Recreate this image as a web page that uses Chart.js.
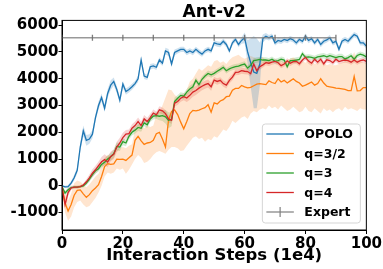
<!DOCTYPE html>
<html>
<head>
<meta charset="utf-8">
<script src="https://cdn.jsdelivr.net/npm/chart.js@4.4.0/dist/chart.umd.min.js"></script>
<style>
  body { margin: 0; background: #fff; }
  #wrap { width: 383px; height: 269px; }
</style>
</head>
<body>
<div id="wrap"><canvas id="antChart"></canvas></div>
<script>
// mean returns per step (x = index, in 1e4 interaction steps)
const opolo = [0, -40, -30, 100, 300, 580, 1450, 2050, 1700, 1750,
  1930, 2550, 3000, 3300, 2900, 3450, 3760, 3900, 3600, 3200,
  3800, 3520, 3600, 3700, 3820, 4000, 4700, 4100, 4050, 4450,
  4480, 4430, 4700, 4580, 5040, 4980, 4550, 4980, 5040, 5100,
  5100, 4980, 5040, 4980, 5100, 5000, 4920, 5040, 5100, 5040,
  5340, 5300, 5280, 5400, 5280, 5040, 5340, 5470, 5280, 5430,
  5530, 5000, 4600, 4250, 4200, 4550, 5500, 5590, 5530, 5590,
  5340, 5430, 5400, 5470, 5430, 5500, 5450, 5340, 5470, 5400,
  5590, 5430, 5500, 5340, 5470, 5280, 5400, 5450, 5530, 5340,
  5400, 5100, 5400, 5470, 5400, 5530, 5650, 5590, 5340, 5340,
  5220];
const opoloSpread = [30, 40, 60, 80, 100, 120, 150, 200, 200, 180,
  150, 130, 150, 150, 140, 160, 180, 150, 130, 120,
  130, 120, 110, 110, 100, 120, 130, 110, 100, 100,
  100, 100, 100, 100, 120, 130, 120, 110, 100, 100,
  100, 100, 100, 100, 100, 100, 100, 100, 100, 100,
  100, 100, 100, 100, 100, 100, 100, 100, 100, 120,
  200, 450, 900, 1350, 1300, 800, 150, 120, 100, 100,
  100, 100, 100, 100, 100, 100, 100, 100, 100, 100,
  100, 100, 100, 100, 100, 100, 100, 100, 100, 100,
  100, 100, 100, 100, 100, 100, 100, 100, 100, 100,
  100];

const q32 = [-85, -630, -940, -700, -350, -170, -150, -300, -430, -330,
  -180, -80, 40, 350, 720, 830, 800, 820, 1000, 990,
  1000, 950, 1050, 1150, 1700, 1850, 1680, 1550, 1600, 1620,
  1700, 1950, 2000, 1750, 1450, 2450, 2780, 2840, 2660, 2380,
  2130, 2400, 2700, 2820, 2800, 2830, 2880, 2920, 3030, 2750,
  3100, 3060, 3170, 3220, 3330, 3350, 3570, 3640, 3640, 3750,
  3700, 3660, 3680, 3740, 3800, 3820, 3800, 3780, 3920, 3860,
  3820, 4000, 3880, 3940, 3840, 3920, 4000, 3900, 3840, 3720,
  3760, 3820, 3880, 3760, 3820, 4000, 3840, 3720, 3700, 3680,
  3650, 3640, 3620, 3600, 3560, 3560, 4090, 3550, 3560, 3670,
  3670];
const q32Low = [-300, -1000, -1300, -1150, -800, -600, -550, -700, -800, -750,
  -600, -450, -250, 0, 350, 500, 450, 500, 650, 600,
  650, 450, 600, 800, 1000, 1150, 1050, 850, 900, 1000,
  1150, 1250, 1300, 1250, 1200, 1350, 1450, 1450, 1400, 1300,
  1330, 1500, 1650, 1800, 1850, 1750, 1800, 1650, 1750, 1700,
  1850, 1800, 1950, 2100, 2050, 2200, 2430, 2350, 2450, 2550,
  2600, 2500, 2700, 2800, 2750, 2850, 2900, 2850, 3000, 2900,
  2950, 2850, 3000, 2900, 2800, 2850, 2950, 2850, 2750, 2800,
  2950, 2800, 2750, 2900, 2800, 2700, 2900, 2800, 2850, 2750,
  2850, 2900, 2800, 2950, 2850, 2900, 2850, 2800, 2900, 2850,
  2850];
const q32High = [100, -300, -550, -300, 100, 200, 150, 50, -50, 50,
  200, 350, 450, 700, 1050, 1150, 1100, 1150, 1350, 1400,
  1450, 1400, 1500, 1550, 2100, 2300, 2200, 2150, 2250, 2200,
  2250, 2650, 2750, 3000, 3300, 3600, 3570, 3400, 3300, 3200,
  3300, 3600, 3900, 4000, 4200, 4380, 4300, 4400, 4500, 4450,
  4650, 4700, 4600, 4650, 4550, 4700, 4800, 4850, 4900, 4800,
  4750, 4800, 4850, 4800, 4750, 4800, 4800, 4700, 4750, 4600,
  4550, 4650, 4700, 4600, 4700, 4750, 4800, 4700, 4600, 4650,
  4600, 4700, 4650, 4550, 4600, 4650, 4600, 4500, 4550, 4500,
  4500, 4550, 4600, 4650, 4700, 4750, 5000, 4700, 4650, 4600,
  4600];

const q3 = [-25, -270, -150, -70, -50, -50, -30, 0, 100, 250,
  420, 560, 640, 800, 880, 1000, 1090, 1200, 1470, 1450,
  1650, 1600, 1850, 2000, 2080, 2180, 2150, 2350, 2280, 2500,
  2600, 2620, 2600, 2620, 2580, 2450, 2480, 3150, 3270, 3380,
  3350, 3500, 3620, 3700, 3940, 3780, 3980, 4100, 4200, 4150,
  4200, 4280, 4350, 4430, 4300, 4370, 4420, 4450, 4470, 4520,
  4550, 4400, 4500, 4680, 4700, 4720, 4700, 4700, 4680, 4730,
  4650, 4680, 4730, 4700, 4450, 4680, 4680, 4700, 4720, 4940,
  4800, 4820, 4800, 4760, 4820, 4840, 4860, 4820, 4860, 4830,
  4790, 4830, 4830, 4740, 4790, 4860, 4730, 4870, 4920, 4880,
  4820];
const q3Spread = [20, 80, 80, 60, 50, 50, 50, 60, 80, 100,
  100, 100, 100, 120, 120, 130, 140, 150, 150, 150,
  130, 120, 120, 120, 130, 130, 130, 120, 120, 120,
  120, 120, 150, 200, 250, 300, 250, 150, 120, 120,
  120, 120, 120, 120, 120, 120, 110, 110, 110, 110,
  100, 100, 100, 100, 100, 100, 100, 100, 100, 100,
  100, 100, 100, 100, 100, 100, 100, 100, 100, 100,
  100, 100, 100, 100, 100, 100, 100, 100, 100, 100,
  100, 100, 100, 100, 100, 100, 100, 100, 100, 100,
  100, 100, 100, 100, 100, 100, 100, 100, 100, 100,
  100];

const q4 = [-25, -700, -250, -80, -50, -50, -30, 30, 150, 300,
  470, 600, 750, 900, 980, 890, 1100, 1180, 1450, 1600,
  1800, 1930, 1950, 2150, 2250, 2400, 2250, 2500, 2400, 2550,
  2720, 2650, 2840, 2800, 2700, 2500, 2450, 3090, 3150, 3270,
  3330, 3280, 3380, 3500, 3560, 3650, 3720, 3780, 3820, 3700,
  3950, 3900, 3940, 3820, 3760, 3940, 4060, 4240, 4250, 4300,
  4280, 4270, 4190, 4550, 4300, 4450, 4520, 4600, 4580, 4620,
  4650, 4600, 4490, 4550, 4670, 4580, 4640, 4650, 4560, 4700,
  4800, 4660, 4580, 4730, 4620, 4730, 4560, 4710, 4680, 4600,
  4730, 4640, 4680, 4700, 4680, 4620, 4700, 4620, 4680, 4700,
  4650];
const q4Spread = [20, 200, 150, 80, 60, 50, 50, 60, 100, 120,
  150, 150, 160, 180, 200, 200, 180, 180, 200, 200,
  180, 160, 150, 150, 150, 150, 150, 150, 140, 140,
  130, 130, 130, 130, 130, 130, 130, 130, 130, 130,
  130, 150, 160, 170, 170, 160, 150, 150, 150, 150,
  120, 120, 120, 120, 120, 120, 120, 110, 110, 110,
  110, 110, 110, 110, 110, 110, 100, 100, 100, 100,
  100, 100, 100, 100, 100, 100, 100, 100, 100, 100,
  100, 100, 100, 100, 100, 100, 100, 100, 100, 100,
  100, 100, 100, 100, 100, 100, 100, 100, 100, 100,
  100];

const expertSteps = [0, 10, 20, 30, 40, 50, 60, 70, 80, 90];
const expertScore = [5530, 5530, 5530, 5530, 5530, 5530, 5530, 5530, 5530, 5530];

const xTicks = [0, 20, 40, 60, 80, 100];
const yTicks = [-1000, 0, 1000, 2000, 3000, 4000, 5000, 6000];

const FONT = 'DejaVu Sans';

function pts(vals) {
    return vals.map((v, i) => ({ x: i, y: v }));
}

function lineSet(label, vals, color, order) {
    return {
        label: label, data: pts(vals), borderColor: color, borderWidth: 1.3,
        pointRadius: 0, tension: 0, fill: false, order: order, legendEntry: true
    };
}

function bandSets(low, high, fillColor) {
    return [
        { data: pts(high), borderWidth: 0, pointRadius: 0, fill: false, order: 20 },
        { data: pts(low), borderWidth: 0, pointRadius: 0, fill: '-1', backgroundColor: fillColor, order: 20 }
    ];
}

var datasets = [];
datasets = datasets.concat(bandSets(opolo.map((v, i) => v - opoloSpread[i]), opolo.map((v, i) => v + opoloSpread[i]), 'rgba(31,119,180,0.22)'));
datasets = datasets.concat(bandSets(q32Low, q32High, 'rgba(255,127,14,0.2)'));
datasets = datasets.concat(bandSets(q3.map((v, i) => v - q3Spread[i]), q3.map((v, i) => v + q3Spread[i]), 'rgba(44,160,44,0.2)'));
datasets = datasets.concat(bandSets(q4.map((v, i) => v - q4Spread[i]), q4.map((v, i) => v + q4Spread[i]), 'rgba(214,39,40,0.2)'));
datasets.push(lineSet('OPOLO', opolo, '#1f77b4', 4));
datasets.push(lineSet('q=3/2', q32, '#ff7f0e', 3));
datasets.push(lineSet('q=3', q3, '#2ca02c', 2));
datasets.push(lineSet('q=4', q4, '#d62728', 1));
datasets.push({
    label: 'Expert',
    data: expertSteps.map((s, i) => ({ x: s, y: expertScore[i] })),
    borderColor: 'rgba(128,128,128,0.8)', borderWidth: 1.5,
    pointStyle: 'line', rotation: 90, pointRadius: 3,
    pointBorderColor: 'rgba(110,110,110,0.9)', pointBorderWidth: 1.3,
    fill: false, order: 0, legendEntry: true, isExpert: true
});

// box around the plot plus the matplotlib-like legend inside it
const framePlugin = {
    id: 'frame',
    afterDraw(chart) {
        const ctx = chart.ctx, a = chart.chartArea;
        ctx.save();
        ctx.strokeStyle = '#000';
        ctx.lineWidth = 1;
        ctx.strokeRect(a.left, a.top, a.right - a.left, a.bottom - a.top);

        const items = chart.data.datasets.filter(d => d.legendEntry);
        const rowH = 19.5, boxW = 98, boxH = (items.length - 1) * rowH + 21;
        const left = a.right - 6 - boxW, top = a.bottom - 7 - boxH;
        ctx.beginPath();
        ctx.roundRect(left, top, boxW, boxH, 3);
        ctx.fillStyle = 'rgba(255,255,255,0.85)';
        ctx.fill();
        ctx.strokeStyle = '#d5d5d5';
        ctx.stroke();

        ctx.font = 'bold 12.5px "' + FONT + '"';
        ctx.textBaseline = 'middle';
        items.forEach(function(d, i) {
            const y = top + 10 + i * rowH;
            ctx.strokeStyle = d.borderColor;
            ctx.lineWidth = d.isExpert ? 1.5 : 1.3;
            ctx.beginPath();
            ctx.moveTo(left + 4, y);
            ctx.lineTo(left + 31.5, y);
            ctx.stroke();
            if (d.isExpert) {
                ctx.beginPath();
                ctx.moveTo(left + 17.8, y - 5);
                ctx.lineTo(left + 17.8, y + 5);
                ctx.stroke();
            }
            ctx.fillStyle = '#000';
            ctx.fillText(d.label, left + 42, y + 1);
        });
        ctx.restore();
    }
};

var ctx = document.getElementById('antChart').getContext('2d');
var antChart = new Chart(ctx, {
    type: 'line',
    data: { datasets: datasets },
    plugins: [framePlugin],
    options: {
        responsive: true,
        maintainAspectRatio: false,
        animation: false,
        layout: { padding: { top: 0, right: 16, bottom: 0, left: 0 } },
        plugins: {
            legend: { display: false },
            tooltip: { enabled: false },
            title: {
                display: true, text: 'Ant-v2', fullSize: false, color: '#000',
                font: { family: FONT, size: 17, weight: 'bold' },
                padding: { top: 2, bottom: -2 }
            }
        },
        scales: {
            x: {
                type: 'linear', min: 0, max: 100,
                afterBuildTicks: function(s) { s.ticks = xTicks.map(v => ({ value: v })); },
                afterFit: function(s) { s.height = 39; },
                grid: { display: true, drawOnChartArea: false, tickLength: 4, color: '#000' },
                border: { display: true, color: '#000', width: 1 },
                ticks: { color: '#000', padding: 1, maxRotation: 0, autoSkip: false,
                         font: { family: FONT, size: 15, weight: 'bold' },
                         callback: function(v) { return String(v); } },
                title: { display: true, text: 'Interaction Steps (1e4)', color: '#000',
                         font: { family: FONT, size: 16.5, weight: 'bold' },
                         padding: { top: 0, bottom: 3 } }
            },
            y: {
                type: 'linear', min: -1650, max: 6180,
                afterBuildTicks: function(s) { s.ticks = yTicks.map(v => ({ value: v })); },
                afterFit: function(s) { s.width = 62; },
                grid: { display: true, drawOnChartArea: false, tickLength: 3.5, color: '#000' },
                border: { display: true, color: '#000', width: 1 },
                ticks: { color: '#000', padding: 0,
                         font: { family: FONT, size: 15, weight: 'bold' },
                         callback: function(v) { return String(v); } }
            }
        }
    }
});
</script>
</body>
</html>
